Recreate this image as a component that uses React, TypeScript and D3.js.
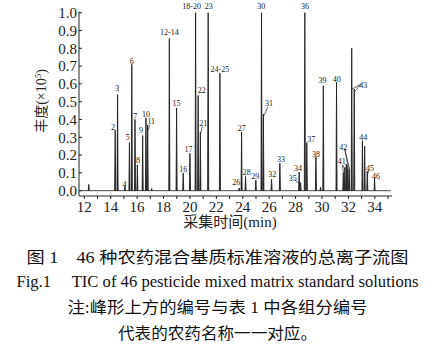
import React, { useRef, useEffect } from 'react';
import * as d3 from 'd3';

// retention time (min) and abundance (x10^5) of each peak top
const peakTimes = [12.34, 14.34, 14.52, 15.08, 15.42, 15.6, 15.84, 16.02, 16.42, 16.67, 16.8, 17.1,
  18.44, 18.99, 19.49, 20.0, 20.43, 20.62, 20.79, 21.38, 22.27, 23.73, 23.91, 24.21, 24.99,
  25.42, 25.56, 26.18, 26.81, 28.27, 28.38, 28.7, 28.85, 29.54, 29.89, 30.1, 31.1,
  31.61, 31.73, 31.84, 31.95, 32.06, 32.25, 32.44, 33.06, 33.23, 33.43, 33.98];
const peakHeights = [0.035, 0.34, 0.54, 0.025, 0.27, 0.71, 0.40, 0.145, 0.31, 0.41, 0.37, 0.012,
  0.855, 0.465, 0.10, 0.21, 1.0, 0.535, 0.33, 1.0, 0.66, 0.015, 0.33, 0.08, 0.06,
  1.0, 0.43, 0.065, 0.155, 0.105, 0.045, 1.0, 0.27, 0.19, 0.02, 0.59, 0.61,
  0.10, 0.13, 0.15, 0.14, 0.12, 0.80, 0.57, 0.28, 0.25, 0.11, 0.07];

// peak numbers and where they sit (time, abundance)
const labelTexts = ['2', '3', '4', '5', '6', '7', '8', '9', '10', '11', '12-14', '15', '16', '17', '18-20',
  '21', '22', '23', '24-25', '26', '27', '28', '29', '30', '31', '32', '33', '34', '35', '36', '37', '38',
  '39', '40', '41', '42', '43', '44', '45', '46'];
const labelTimes = [14.17, 14.5, 15.04, 15.29, 15.59, 15.86, 16.07, 16.29, 16.67, 17.07, 18.44, 18.99, 19.49, 19.89, 20.13,
  21.0, 20.89, 21.42, 22.27, 23.51, 23.92, 24.3, 24.95, 25.4, 25.98, 26.23, 26.89, 28.18, 27.78, 28.71, 29.19, 29.54,
  30.03, 31.11, 31.49, 31.61, 33.12, 33.12, 33.63, 34.08];
const labelValues = [0.358, 0.577, 0.037, 0.298, 0.729, 0.421, 0.172, 0.337, 0.431, 0.388, 0.892, 0.494, 0.122, 0.232, 1.038,
  0.379, 0.566, 1.038, 0.682, 0.046, 0.35, 0.101, 0.082, 1.035, 0.494, 0.094, 0.178, 0.127, 0.069, 1.035, 0.289, 0.206,
  0.618, 0.626, 0.163, 0.244, 0.594, 0.3, 0.129, 0.082];

// leader lines: [t0, v0, t1, v1]
const leaders = [
  [16.97, 0.37, 16.83, 0.34],
  [20.93, 0.36, 20.81, 0.32],
  [25.9, 0.47, 25.6, 0.42],
  [27.92, 0.062, 28.33, 0.035],
  [31.55, 0.145, 31.63, 0.095],
  [31.55, 0.145, 31.75, 0.12],
  [31.72, 0.235, 31.96, 0.14],
  [31.72, 0.235, 32.1, 0.115],
  [32.98, 0.6, 32.27, 0.57],
  [32.98, 0.6, 32.45, 0.555],
  [33.56, 0.115, 33.44, 0.09],
];

const yTicks = [0, 0.1, 0.2, 0.3, 0.4, 0.5, 0.6, 0.7, 0.8, 0.9, 1.0];
const xTicks = [12, 14, 16, 18, 20, 22, 24, 26, 28, 30, 32, 34];

const captionLines = [
  '图 1　46 种农药混合基质标准溶液的总离子流图',
  'Fig.1　 TIC of 46 pesticide mixed matrix standard solutions',
  '注:峰形上方的编号与表 1 中各组分编号',
  '代表的农药名称一一对应。',
];

function App() {
  const ref = useRef(null);

  useEffect(() => {
    const svg = d3.select(ref.current);
    svg.selectAll('*').remove();

    const serif = '"Liberation Serif", "DejaVu Serif", serif';
    const cjk = '"Liberation Serif", "Noto Sans CJK SC", serif';

    const x = d3.scaleLinear().domain([11.6, 35.3]).range([79, 392]);
    const y = d3.scaleLinear().domain([-0.03, 1]).range([196, 12.7]);

    const g = svg.append('g');

    // baseline of the trace
    g.append('line')
      .attr('x1', x(11.62)).attr('x2', x(35.2))
      .attr('y1', y(0)).attr('y2', y(0))
      .attr('stroke', '#333').attr('stroke-width', 0.9);

    const line = d3.line().x(d => x(d[0])).y(d => y(d[1]));
    const hw = 0.04;
    g.selectAll('path.peak')
      .data(peakTimes.map((t, i) => [t, peakHeights[i]]))
      .enter().append('path')
      .attr('class', 'peak')
      .attr('d', d => line([[d[0] - hw, 0], [d[0], d[1]], [d[0] + hw, 0]]))
      .attr('fill', '#222')
      .attr('stroke', '#222')
      .attr('stroke-width', 0.9);

    // axes
    g.append('line').attr('x1', 79).attr('x2', 79).attr('y1', y(1) - 1).attr('y2', 196)
      .attr('stroke', '#222').attr('stroke-width', 1);
    g.append('line').attr('x1', 79).attr('x2', 392).attr('y1', 196).attr('y2', 196)
      .attr('stroke', '#222').attr('stroke-width', 1);

    g.selectAll('line.ytick').data(yTicks).enter().append('line')
      .attr('class', 'ytick')
      .attr('x1', 79).attr('x2', 82).attr('y1', d => y(d)).attr('y2', d => y(d))
      .attr('stroke', '#222');
    g.selectAll('text.ylab').data(yTicks).enter().append('text')
      .attr('class', 'ylab')
      .attr('x', 77).attr('y', d => y(d)).attr('dy', '0.35em')
      .attr('text-anchor', 'end')
      .style('font-family', serif).style('font-size', '15px').style('fill', '#222')
      .text(d => d.toFixed(1));

    g.selectAll('line.xtick').data(d3.range(12, 36)).enter().append('line')
      .attr('class', 'xtick')
      .attr('x1', d => x(d)).attr('x2', d => x(d)).attr('y1', 196).attr('y2', 199)
      .attr('stroke', '#222');
    g.selectAll('text.xlab').data(xTicks).enter().append('text')
      .attr('class', 'xlab')
      .attr('x', d => x(d)).attr('y', 212)
      .attr('text-anchor', 'middle')
      .style('font-family', serif).style('font-size', '15px').style('fill', '#222')
      .text(d => d);

    // axis titles
    g.append('text')
      .attr('x', 230).attr('y', 227)
      .attr('text-anchor', 'middle')
      .style('font-family', cjk).style('font-size', '15px').style('fill', '#222')
      .text('采集时间(min)');

    const yt = g.append('text')
      .attr('transform', 'translate(46,101) rotate(-90)')
      .attr('text-anchor', 'middle')
      .style('font-family', cjk).style('font-size', '14px').style('fill', '#222');
    yt.append('tspan').text('丰度(×10');
    yt.append('tspan').attr('dy', -5).style('font-size', '9px').text('5');
    yt.append('tspan').attr('dy', 5).text(')');

    // peak numbers
    g.selectAll('text.plab').data(labelTexts).enter().append('text')
      .attr('class', 'plab')
      .attr('x', (d, i) => x(labelTimes[i]))
      .attr('y', (d, i) => y(labelValues[i]))
      .attr('dy', '0.35em')
      .attr('text-anchor', 'middle')
      .style('font-family', serif).style('font-size', '8px').style('fill', '#222')
      .text(d => d);

    g.selectAll('line.leader').data(leaders).enter().append('line')
      .attr('class', 'leader')
      .attr('x1', d => x(d[0])).attr('y1', d => y(d[1]))
      .attr('x2', d => x(d[2])).attr('y2', d => y(d[3]))
      .attr('stroke', '#222').attr('stroke-width', 0.7);

    // caption
    const capY = [263, 287, 313, 339];
    const capW = [382, 402, 300, 199];
    g.selectAll('text.cap').data(captionLines).enter().append('text')
      .attr('class', 'cap')
      .attr('x', 217.5).attr('y', (d, i) => capY[i])
      .attr('text-anchor', 'middle')
      .attr('textLength', (d, i) => capW[i])
      .attr('lengthAdjust', 'spacingAndGlyphs')
      .style('font-family', cjk)
      .style('font-size', '16px')
      .style('fill', '#111')
      .text(d => d);
  }, []);

  return (
    <svg ref={ref} width={435} height={353}
      style={{ position: 'absolute', left: 0, top: 0, background: '#fff' }} />
  );
}

export default App;
